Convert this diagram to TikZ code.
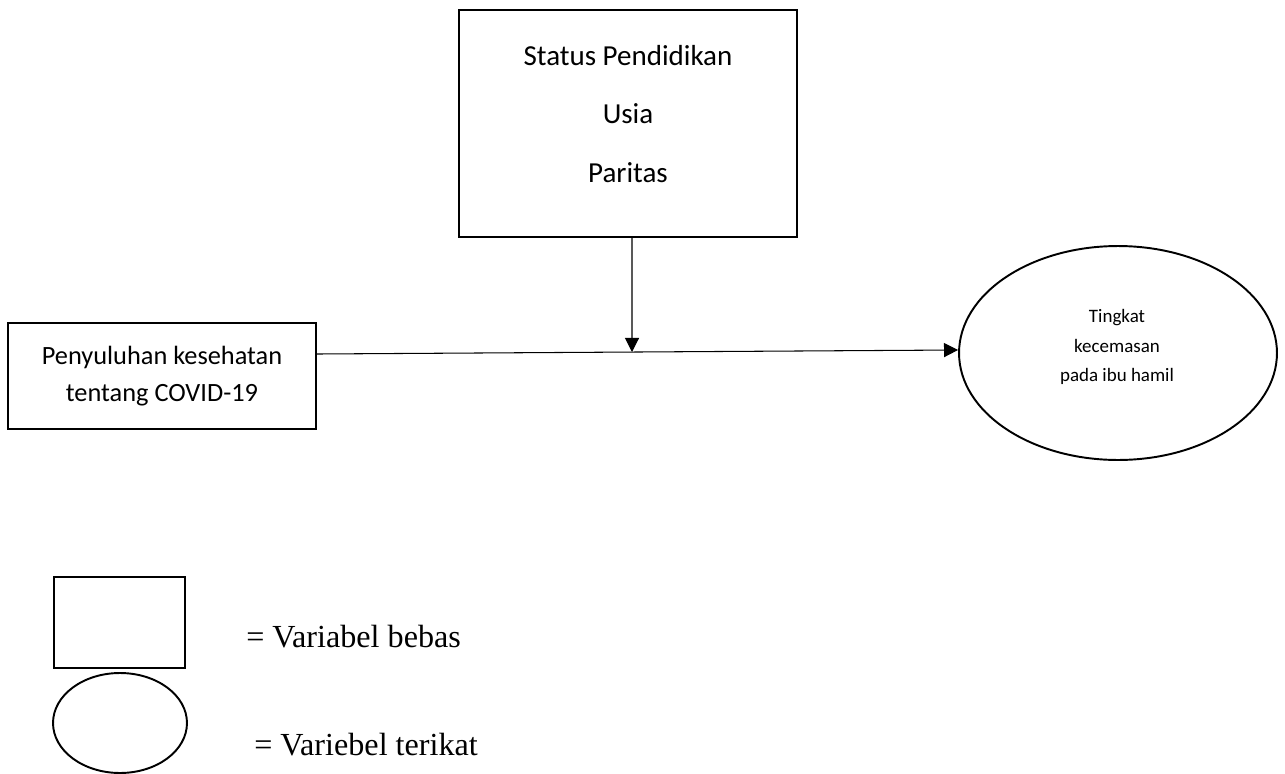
\documentclass[tikz,border=0pt]{standalone}
\usepackage{fontspec}
\setmainfont{Carlito}
\newfontfamily\legendfont{Liberation Serif}
\usetikzlibrary{arrows.meta,shapes.geometric}
\begin{document}
\begin{tikzpicture}%
	[
	x=0.02cm,
	y=-0.02cm,
	varbox/.style={draw=black, line width=1.4pt, rectangle, inner sep=0pt},
	varellipse/.style={draw=black, line width=1.1pt, ellipse, inner sep=0pt},
	bigtext/.style={font={\fontsize{16.5}{33.5}\selectfont}, align=center, inner sep=0pt},
	midtext/.style={font={\fontsize{15}{21.5}\selectfont}, align=center, inner sep=0pt},
	smalltext/.style={font={\fontsize{10.8}{17}\selectfont}, align=center, inner sep=0pt},
	legendtext/.style={font={\legendfont\fontsize{18.3}{20}\selectfont}, anchor=west, inner sep=0pt},
	link/.style={draw=black, line width=0.6pt, -{Triangle[length=8pt,width=8pt]}}]

\useasboundingbox (0,0) rectangle (1285,774);

% variables
\node[varbox, minimum width=6.76cm, minimum height=4.54cm] (moderator) at (628,123.5) {};
\node[bigtext] (moderatortext) at (628,114) {Status Pendidikan\\Usia\\Paritas};

\node[varbox, minimum width=6.16cm, minimum height=2.12cm] (bebas) at (162,376) {};
\node[midtext] (bebastext) at (162,376) {Penyuluhan kesehatan\\tentang COVID-19};

\node[varellipse, minimum width=6.36cm, minimum height=4.28cm] (terikat) at (1118,353) {};
\node[smalltext] (terikattext) at (1117,347) {Tingkat\\kecemasan\\pada ibu hamil};

\coordinate (meet) at (632,352);

\draw[link] ([yshift=0.44cm]bebas.east) -- ([yshift=0.06cm]terikat.west);
\draw[link] ([xshift=0.08cm]moderator.south) -- (meet);

% legend
\node[varbox, minimum width=2.62cm, minimum height=1.82cm] (keybox) at (119.5,622.5) {};
\node[varellipse, minimum width=2.68cm, minimum height=2.0cm] (keyellipse) at (120,723) {};
\node[legendtext] (keyboxtext) at (246,637) {= Variabel bebas};
\node[legendtext] (keyellipsetext) at (254,745) {= Variebel terikat};
\end{tikzpicture}
\end{document}
